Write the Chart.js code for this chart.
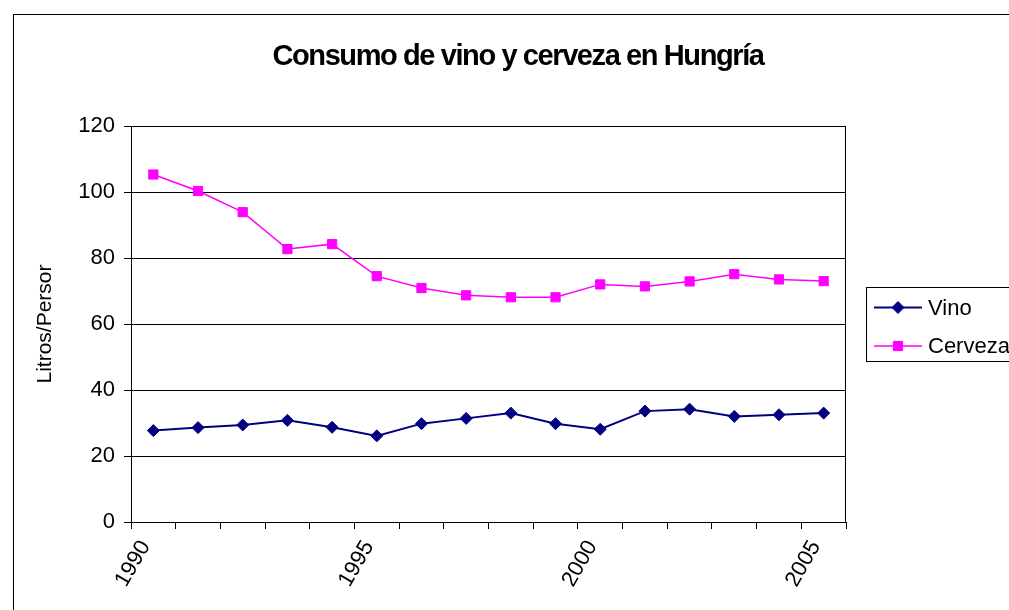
<!DOCTYPE html>
<html>
<head>
<meta charset="utf-8">
<script src="https://cdn.jsdelivr.net/npm/chart.js@4/dist/chart.umd.min.js"></script>
<style>
  body { margin: 0; background: #fff; overflow: hidden; }
  canvas { display: block; }
</style>
</head>
<body>
<canvas id="c" width="1009" height="610"></canvas>
<script>
const titleText = 'Consumo de vino y cerveza en Hungría';
const yTitle = 'Litros/Persor';
const years = ['1990', '1991', '1992', '1993', '1994', '1995', '1996', '1997',
               '1998', '1999', '2000', '2001', '2002', '2003', '2004', '2005'];
const vino = [27.7, 28.6, 29.4, 30.8, 28.7, 26.1, 29.8, 31.4, 33.0, 29.8, 28.1, 33.6, 34.2, 32.0, 32.5, 33.0];
const cerveza = [105.3, 100.3, 93.9, 82.7, 84.2, 74.5, 70.9, 68.7, 68.1, 68.1, 72.0, 71.4, 72.9, 75.1, 73.5, 73.0];
const yTicks = [0, 20, 40, 60, 80, 100, 120];

const FONT = '"Liberation Sans", Arial, sans-serif';

// white page, outer frame (runs off the page), plot border, title and legend
const decor = {
    id: 'decor',
    beforeDraw(chart) {
        const ctx = chart.ctx;
        ctx.save();
        ctx.fillStyle = '#fff';
        ctx.fillRect(0, 0, chart.width, chart.height);
        ctx.strokeStyle = '#000';
        ctx.lineWidth = 1;
        ctx.strokeRect(13.5, 14.5, chart.width + 50, chart.height + 50);
        ctx.restore();
    },
    afterDraw(chart) {
        const ctx = chart.ctx;
        const a = chart.chartArea;
        ctx.save();
        ctx.strokeStyle = '#000';
        ctx.lineWidth = 1;
        ctx.beginPath();
        ctx.moveTo(Math.round(a.right) - 0.5, a.top);
        ctx.lineTo(Math.round(a.right) - 0.5, a.bottom);
        ctx.stroke();

        // title
        ctx.fillStyle = '#000';
        ctx.font = 'bold 29px ' + FONT;
        ctx.letterSpacing = '-1.4px';
        ctx.textAlign = 'center';
        ctx.textBaseline = 'alphabetic';
        ctx.fillText(titleText, 518, 65);
        ctx.letterSpacing = '0px';

        // legend, cut by the right edge like the original
        ctx.strokeStyle = '#000';
        ctx.lineWidth = 1;
        ctx.strokeRect(866.5, 287.5, 200, 74);
        ctx.font = '22px ' + FONT;
        ctx.textAlign = 'left';
        ctx.textBaseline = 'middle';
        chart.data.datasets.forEach((ds, i) => {
            const y = 307.5 + i * 38.5;
            ctx.strokeStyle = ds.borderColor;
            ctx.lineWidth = ds.borderWidth;
            ctx.beginPath();
            ctx.moveTo(874, y);
            ctx.lineTo(922, y);
            ctx.stroke();
            ctx.fillStyle = ds.pointBackgroundColor;
            ctx.strokeStyle = ds.pointBorderColor;
            ctx.lineWidth = 1;
            Chart.helpers.drawPoint(ctx, {
                pointStyle: ds.pointStyle,
                radius: ds.pointRadius,
                rotation: 0,
                borderWidth: 1
            }, 898, y);
            ctx.fillStyle = '#000';
            ctx.fillText(ds.label, 928, y + 1);
        });
        ctx.restore();
    }
};

new Chart(document.getElementById('c'), {
    type: 'line',
    data: {
        labels: years,
        datasets: [{
            label: 'Vino',
            data: vino,
            borderColor: '#000080',
            backgroundColor: '#000080',
            pointBackgroundColor: '#000080',
            pointBorderColor: '#000080',
            borderWidth: 2,
            pointStyle: 'rectRot',
            pointRadius: 6,
            pointBorderWidth: 1,
            tension: 0
        }, {
            label: 'Cerveza',
            data: cerveza,
            borderColor: '#FF00FF',
            backgroundColor: '#FF00FF',
            pointBackgroundColor: '#FF00FF',
            pointBorderColor: '#FF00FF',
            borderWidth: 1.5,
            pointStyle: 'rect',
            pointRadius: 6.5,
            pointBorderWidth: 1,
            tension: 0
        }]
    },
    options: {
        responsive: false,
        animation: false,
        layout: { padding: { left: 0, right: 163, top: 126, bottom: 0 } },
        plugins: {
            legend: { display: false },
            title: { display: false },
            tooltip: { enabled: false }
        },
        scales: {
            x: {
                offset: true,
                grid: { display: true, drawOnChartArea: false, offset: true, tickLength: 7, color: '#000' },
                border: { color: '#000', width: 1 },
                ticks: {
                    autoSkip: false,
                    minRotation: 60,
                    maxRotation: 60,
                    padding: 7,
                    labelOffset: -8,
                    color: '#000',
                    font: { family: FONT, size: 22 },
                    callback: (v, i) => (Number(years[i]) % 5 === 0 ? years[i] : '')
                },
                afterFit: s => { s.height = 88; }
            },
            y: {
                min: 0,
                max: 120,
                afterBuildTicks: s => { s.ticks = yTicks.map(v => ({ value: v })); },
                grid: { color: '#000', tickLength: 7 },
                border: { color: '#000', width: 1 },
                ticks: { padding: 9, color: '#000', font: { family: FONT, size: 22 } },
                title: {
                    display: true,
                    text: yTitle,
                    color: '#000',
                    padding: { top: 33, bottom: 0 },
                    font: { family: FONT, size: 21 }
                },
                afterFit: s => { s.width = 131; }
            }
        }
    },
    plugins: [decor]
});
</script>
</body>
</html>
